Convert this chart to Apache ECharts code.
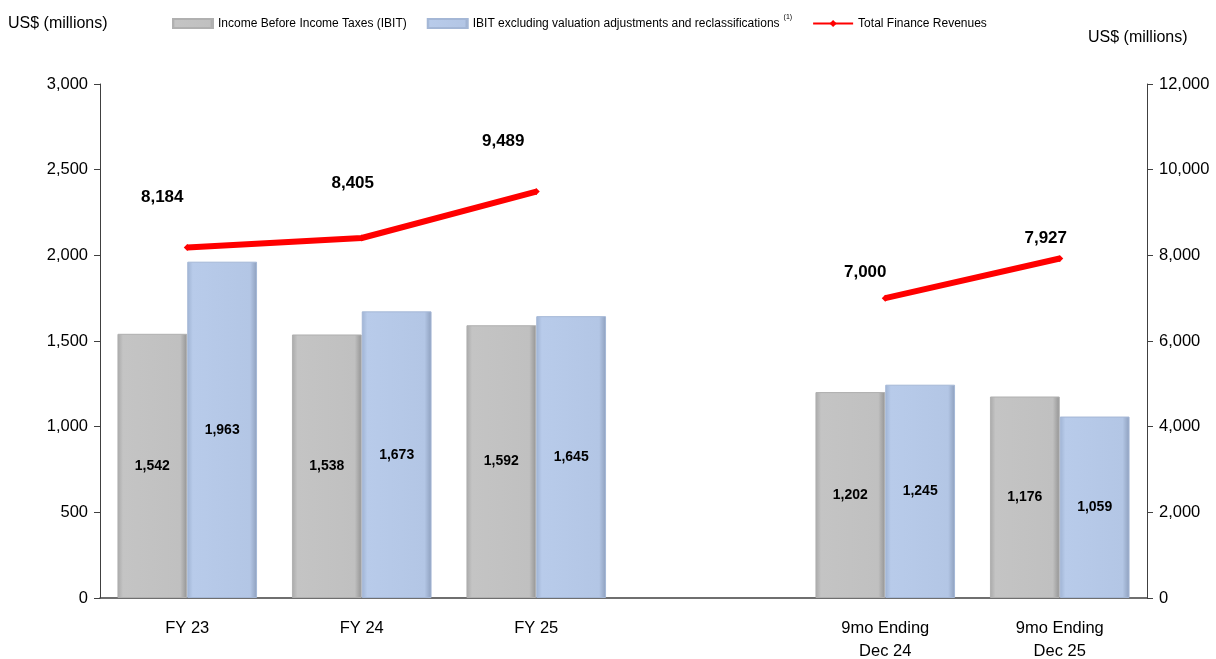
<!DOCTYPE html>
<html>
<head>
<meta charset="utf-8">
<script src="https://cdn.jsdelivr.net/npm/echarts@6/dist/echarts.min.js"></script>
<style>
html,body{margin:0;padding:0;background:#fff;}
#chart{width:1216px;height:659px;}
</style>
</head>
<body>
<div id="chart"></div>
<script>
var categories = ['FY 23', 'FY 24', 'FY 25', '', '9mo Ending\nDec 24', '9mo Ending\nDec 25'];
var ibit = [1542, 1538, 1592, null, 1202, 1176];
var ibitAdj = [1963, 1673, 1645, null, 1245, 1059];
var revenues = [8184, 8405, 9489, null, 7000, 7927];
var leftTicks = { min: 0, max: 3000, interval: 500 };
var rightTicks = { min: 0, max: 12000, interval: 2000 };
var seriesNames = ['Income Before Income Taxes (IBIT)', 'IBIT excluding valuation adjustments and reclassifications', 'Total Finance Revenues'];
var axisTitle = 'US$ (millions)';

// label offsets for the line values (style only)
var revLabelOffsets = [[-25, -33], [-9, -38], [-33, -33], [0, 0], [-20, -9], [-14, -3]];

var FONT = '"Liberation Sans Narrow", "Arial Narrow", "Liberation Sans", Arial, sans-serif';
var fmt = function (v) { return v == null ? '' : v.toLocaleString('en-US'); };

var chart = echarts.init(document.getElementById('chart'), null, { renderer: 'canvas' });

var barBase = {
  type: 'bar',
  yAxisIndex: 0,
  barGap: '0%',
  barCategoryGap: '20%',
  label: {
    show: true, position: 'inside', color: '#000', fontFamily: FONT,
    fontWeight: 'bold', fontSize: 14,
    formatter: function (p) { return fmt(p.value); }
  }
};

var option = {
  animation: false,
  backgroundColor: '#fff',
  textStyle: { fontFamily: FONT },
  title: [
    { text: axisTitle, left: 8, top: 16, textStyle: { fontFamily: FONT, fontSize: 16, fontWeight: 'normal', color: '#000' }, padding: 0 },
    { text: axisTitle, left: 1088, top: 30, textStyle: { fontFamily: FONT, fontSize: 16, fontWeight: 'normal', color: '#000' }, padding: 0 }
  ],
  grid: { left: 100, right: 69, top: 84, bottom: 61, containLabel: false, outerBoundsMode: 'none' },
  legend: {
    top: 9, left: 167, itemGap: 20, itemWidth: 40, itemHeight: 9,
    textStyle: {
      fontFamily: FONT, fontSize: 12, color: '#000',
      rich: {
        n: { fontFamily: FONT, fontSize: 12, color: '#000' },
        s: { fontFamily: FONT, fontSize: 7, color: '#000', verticalAlign: 'top', padding: [0, 0, 12, 4] }
      }
    },
    formatter: function (name) {
      if (name === seriesNames[1]) return '{n|' + name + '}{s|(1)}';
      return name;
    },
    data: [
      { name: seriesNames[0], icon: 'rect' },
      { name: seriesNames[1], icon: 'rect' },
      { name: seriesNames[2] }
    ]
  },
  xAxis: {
    type: 'category',
    data: categories,
    axisLine: { lineStyle: { color: '#404040', width: 1.5 } },
    axisTick: { show: false },
    axisLabel: { color: '#000', fontFamily: FONT, fontSize: 16.5, margin: 19, lineHeight: 23, interval: 0 }
  },
  yAxis: [
    {
      type: 'value', min: leftTicks.min, max: leftTicks.max, interval: leftTicks.interval,
      axisLine: { show: true, lineStyle: { color: '#404040' } },
      axisTick: { show: true, length: 6, lineStyle: { color: '#404040' } },
      splitLine: { show: false },
      axisLabel: { color: '#000', fontFamily: FONT, fontSize: 16.5, margin: 12, formatter: fmt }
    },
    {
      type: 'value', min: rightTicks.min, max: rightTicks.max, interval: rightTicks.interval,
      position: 'right',
      axisLine: { show: true, lineStyle: { color: '#404040' } },
      axisTick: { show: true, length: 6, lineStyle: { color: '#404040' } },
      splitLine: { show: false },
      axisLabel: { color: '#000', fontFamily: FONT, fontSize: 16.5, margin: 12, formatter: fmt }
    }
  ],
  series: [
    Object.assign({}, barBase, {
      name: seriesNames[0],
      data: ibit,
      itemStyle: {
        color: new echarts.graphic.LinearGradient(0, 0, 1, 0, [
          { offset: 0, color: '#a9a9a9' }, { offset: 0.08, color: '#c4c4c4' },
          { offset: 0.9, color: '#c0c0c0' }, { offset: 1, color: '#939393' }
        ]),
        borderColor: '#b0b0b0', borderWidth: 1
      }
    }),
    Object.assign({}, barBase, {
      name: seriesNames[1],
      data: ibitAdj,
      itemStyle: {
        color: new echarts.graphic.LinearGradient(0, 0, 1, 0, [
          { offset: 0, color: '#9fb3d3' }, { offset: 0.08, color: '#b8cbea' },
          { offset: 0.9, color: '#b3c6e5' }, { offset: 1, color: '#8d9fbd' }
        ]),
        borderColor: '#a4b7d6', borderWidth: 1
      }
    }),
    {
      name: seriesNames[2],
      type: 'line',
      yAxisIndex: 1,
      connectNulls: false,
      symbol: 'diamond',
      symbolSize: 7,
      z: 5,
      lineStyle: { color: '#ff0000', width: 6 },
      itemStyle: { color: '#ff0000' },
      data: revenues.map(function (v, i) {
        return { value: v, label: { offset: revLabelOffsets[i] } };
      }),
      label: {
        show: true, position: 'top', color: '#000', fontFamily: FONT,
        fontWeight: 'bold', fontSize: 17,
        formatter: function (p) { return fmt(p.value); }
      }
    }
  ]
};

chart.setOption(option);
</script>
</body>
</html>
